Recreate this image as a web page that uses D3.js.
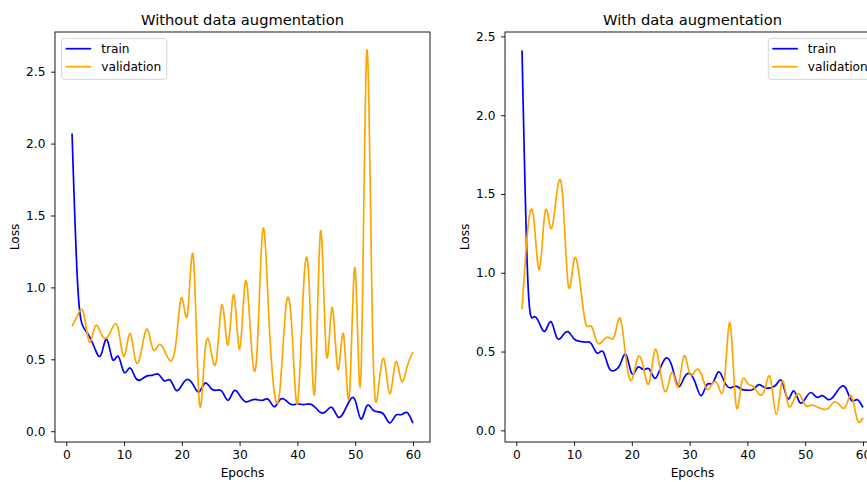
<!DOCTYPE html>
<html>
<head>
<meta charset="utf-8">
<script src="https://cdn.jsdelivr.net/npm/d3@7"></script>
<style>
  html, body { margin: 0; padding: 0; background: #fff; overflow: hidden; }
  text { font-family: "DejaVu Sans", sans-serif; fill: #000; }
</style>
</head>
<body>
<svg id="chart" width="867" height="482"></svg>
<script>
// ---------- data ----------
const epochs = d3.range(1, 61);

const titles = ["Without data augmentation", "With data augmentation"];
const seriesNames = ["train", "validation"];
const xTicks = [0, 10, 20, 30, 40, 50, 60];
const yTicks = [0.0, 0.5, 1.0, 1.5, 2.0, 2.5];

const trainNoAug = [
  2.07, 1.00, 0.72, 0.66, 0.57, 0.53, 0.64, 0.50, 0.52, 0.41,
  0.44, 0.37, 0.36, 0.385, 0.39, 0.395, 0.35, 0.355, 0.285, 0.32,
  0.36, 0.32, 0.275, 0.335, 0.30, 0.285, 0.275, 0.215, 0.28, 0.25,
  0.205, 0.215, 0.22, 0.215, 0.22, 0.17, 0.22, 0.215, 0.185, 0.19,
  0.185, 0.19, 0.17, 0.13, 0.14, 0.165, 0.10, 0.13, 0.21, 0.215,
  0.085, 0.175, 0.15, 0.135, 0.115, 0.058, 0.11, 0.115, 0.13, 0.055
];
const valNoAug = [
  0.73, 0.81, 0.82, 0.62, 0.73, 0.68, 0.65, 0.72, 0.71, 0.52,
  0.68, 0.49, 0.56, 0.71, 0.57, 0.60, 0.56, 0.49, 0.62, 0.93,
  0.82, 1.21, 0.21, 0.55, 0.57, 0.50, 0.88, 0.60, 0.95, 0.57,
  1.04, 0.62, 0.54, 1.40, 0.85, 0.27, 0.30, 0.86, 0.74, 0.19,
  0.95, 1.05, 0.27, 1.39, 0.54, 0.86, 0.43, 0.67, 0.25, 1.13,
  0.38, 2.64, 0.72, 0.29, 0.50, 0.26, 0.48, 0.35, 0.45, 0.55
];
const trainAug = [
  2.41, 0.95, 0.72, 0.68, 0.63, 0.69, 0.59, 0.60, 0.625, 0.58,
  0.565, 0.56, 0.55, 0.49, 0.50, 0.40, 0.38, 0.42, 0.48, 0.36,
  0.40, 0.385, 0.39, 0.33, 0.40, 0.46, 0.40, 0.28, 0.33, 0.36,
  0.30, 0.22, 0.29, 0.30, 0.37, 0.31, 0.27, 0.28, 0.26, 0.255,
  0.26, 0.29, 0.27, 0.27, 0.29, 0.31, 0.20, 0.25, 0.18, 0.20,
  0.24, 0.21, 0.22, 0.195, 0.22, 0.27, 0.27, 0.19, 0.195, 0.145
];
const valAug = [
  0.77, 1.28, 1.35, 1.02, 1.39, 1.28, 1.50, 1.50, 0.92, 1.08,
  0.95, 0.68, 0.66, 0.56, 0.57, 0.59, 0.60, 0.71, 0.45, 0.32,
  0.46, 0.40, 0.30, 0.51, 0.36, 0.25, 0.37, 0.28, 0.47, 0.36,
  0.38, 0.36, 0.26, 0.30, 0.28, 0.30, 0.68, 0.17, 0.30, 0.30,
  0.28, 0.23, 0.26, 0.33, 0.10, 0.31, 0.17, 0.19, 0.23, 0.16,
  0.16, 0.15, 0.135, 0.14, 0.18, 0.16, 0.15, 0.22, 0.07, 0.08
];

// ---------- layout ----------
const colors = { train: "blue", validation: "orange" };
const panels = [
  { title: titles[0], train: trainNoAug, val: valNoAug, x0: 55, x1: 430,
    yDom: [-0.075, 2.776], legendLeft: true },
  { title: titles[1], train: trainAug, val: valAug, x0: 505, x1: 880,
    yDom: [-0.074, 2.528], legendLeft: false }
];
const plotTop = 32, plotBottom = 442;
const svg = d3.select("#chart");
const tickFont = 12.2;
const titleFont = 14.7;

panels.forEach(p => {
  const x = d3.scaleLinear().domain([-1.95, 62.95]).range([p.x0, p.x1]);
  const y = d3.scaleLinear().domain(p.yDom).range([plotBottom, plotTop]);
  const g = svg.append("g");

  // lines
  const line = d3.line().x((d, i) => x(epochs[i])).y(d => y(d)).curve(d3.curveNatural);
  g.append("path").datum(p.train).attr("d", line)
    .attr("fill", "none").attr("stroke", colors.train).attr("stroke-width", 1.7);
  g.append("path").datum(p.val).attr("d", line)
    .attr("fill", "none").attr("stroke", colors.validation).attr("stroke-width", 1.7);

  // frame
  g.append("rect").attr("x", p.x0).attr("y", plotTop)
    .attr("width", p.x1 - p.x0).attr("height", plotBottom - plotTop)
    .attr("fill", "none").attr("stroke", "#000").attr("stroke-width", 0.9);

  // axes
  const xAxis = d3.axisBottom(x).tickValues(xTicks).tickSize(4).tickPadding(4)
    .tickFormat(d3.format("d"));
  const gx = g.append("g").attr("transform", `translate(0,${plotBottom})`).call(xAxis);
  gx.select(".domain").remove();
  gx.selectAll("line").attr("stroke", "#000").attr("stroke-width", 0.9);
  gx.selectAll("text").attr("font-size", tickFont).attr("font-family", "DejaVu Sans").attr("fill", "#000");

  const yAxis = d3.axisLeft(y).tickValues(yTicks).tickSize(4).tickPadding(5.5)
    .tickFormat(d3.format(".1f"));
  const gy = g.append("g").attr("transform", `translate(${p.x0},0)`).call(yAxis);
  gy.select(".domain").remove();
  gy.selectAll("line").attr("stroke", "#000").attr("stroke-width", 0.9);
  gy.selectAll("text").attr("font-size", tickFont).attr("font-family", "DejaVu Sans").attr("fill", "#000");

  // title & labels
  const cx = (p.x0 + p.x1) / 2;
  g.append("text").attr("x", cx).attr("y", 24.5).attr("text-anchor", "middle")
    .attr("font-size", titleFont).text(p.title);
  g.append("text").attr("x", cx).attr("y", 477).attr("text-anchor", "middle")
    .attr("font-size", tickFont).text("Epochs");
  g.append("text").attr("transform", `translate(${p.x0 - 36},${(plotTop + plotBottom) / 2}) rotate(-90)`)
    .attr("text-anchor", "middle").attr("font-size", tickFont).text("Loss");

  // legend
  const lw = 105, lh = 41;
  const lx = p.legendLeft ? p.x0 + 6.7 : p.x1 - 6.7 - lw;
  const ly = plotTop + 6.3;
  const lg = g.append("g").attr("transform", `translate(${lx},${ly})`);
  lg.append("rect").attr("width", lw).attr("height", lh).attr("rx", 2.5)
    .attr("fill", "#fff").attr("fill-opacity", 0.8).attr("stroke", "#d0d0d0").attr("stroke-width", 0.9);
  seriesNames.forEach((name, i) => {
    const yy = 10.4 + i * 18;
    lg.append("line").attr("x1", 4).attr("x2", 29.5).attr("y1", yy).attr("y2", yy)
      .attr("stroke", colors[name]).attr("stroke-width", 1.7);
    lg.append("text").attr("x", 39.5).attr("y", yy + 4.3).attr("font-size", tickFont).text(name);
  });
});
</script>
</body>
</html>
